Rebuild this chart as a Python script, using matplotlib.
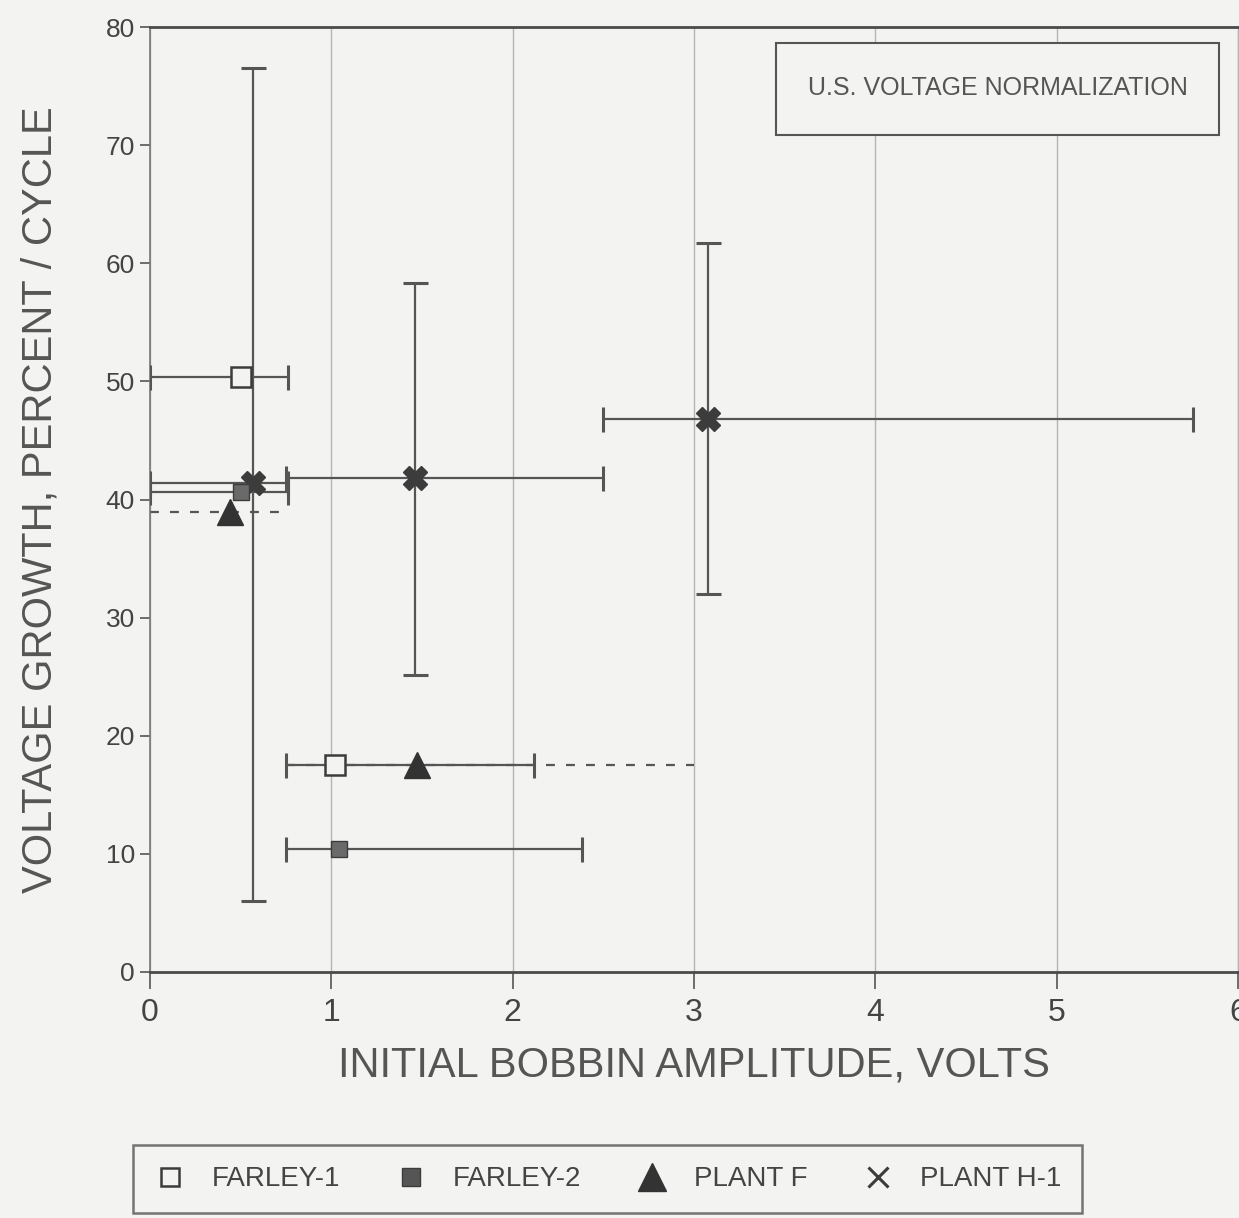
import matplotlib
matplotlib.use("Agg")
import matplotlib.pyplot as plt
from matplotlib.patches import Rectangle
from matplotlib.lines import Line2D

plt.rcParams['font.family'] = ['Liberation Sans', 'DejaVu Sans']

# ---- data ----
farley1_x = [0.50, 1.02]
farley1_y = [50.4, 17.5]
farley1_xlo = [0.0, 0.75]
farley1_xhi = [0.76, 2.12]

farley2_x = [0.50, 1.04]
farley2_y = [40.6, 10.4]
farley2_xlo = [0.0, 0.75]
farley2_xhi = [0.76, 2.38]

plantf_x = [0.44, 1.47]
plantf_y = [38.9, 17.5]
plantf_xlo = [0.0, 0.75]
plantf_xhi = [0.76, 3.00]

planth1_x = [0.57, 1.46, 3.08]
planth1_y = [41.4, 41.8, 46.8]
planth1_xlo = [0.0, 0.75, 2.50]
planth1_xhi = [0.76, 2.50, 5.75]
planth1_ylo = [6.0, 25.1, 32.0]
planth1_yhi = [76.5, 58.3, 61.7]

x_ticks = [0, 1, 2, 3, 4, 5, 6]
y_ticks = [0, 10, 20, 30, 40, 50, 60, 70, 80]

xlabel = "INITIAL BOBBIN AMPLITUDE, VOLTS"
ylabel = "VOLTAGE GROWTH, PERCENT / CYCLE"
note = "U.S. VOLTAGE NORMALIZATION"

BG = '#f3f3f1'
LINE = '#555555'
MARK = '#3c3c3c'

fig = plt.figure(figsize=(12.39, 12.18), dpi=100, facecolor=BG)
ax = fig.add_axes([0.1211, 0.2020, 0.878, 0.7758], facecolor=BG)


def xerr_of(x, lo, hi):
    return [[xi - l for xi, l in zip(x, lo)], [h - xi for xi, h in zip(x, hi)]]


def yerr_of(y, lo, hi):
    return [[yi - l for yi, l in zip(y, lo)], [h - yi for yi, h in zip(y, hi)]]


# Plant H-1
ax.errorbar(planth1_x, planth1_y,
            xerr=xerr_of(planth1_x, planth1_xlo, planth1_xhi),
            yerr=yerr_of(planth1_y, planth1_ylo, planth1_yhi),
            fmt='none', ecolor=LINE, elinewidth=1.6, capsize=9, capthick=2.2, zorder=3)
ax.plot(planth1_x, planth1_y, linestyle='none', marker='X', markersize=17,
        color=MARK, markeredgecolor=MARK, zorder=5)

# Farley-2
ax.errorbar(farley2_x, farley2_y,
            xerr=xerr_of(farley2_x, farley2_xlo, farley2_xhi),
            fmt='none', ecolor=LINE, elinewidth=1.6, capsize=9, capthick=2.2, zorder=3)
ax.plot(farley2_x, farley2_y, linestyle='none', marker='s', markersize=11,
        markerfacecolor='#6a6a6a', markeredgecolor=MARK, zorder=5)

# Farley-1
ax.errorbar(farley1_x, farley1_y,
            xerr=xerr_of(farley1_x, farley1_xlo, farley1_xhi),
            fmt='none', ecolor=LINE, elinewidth=1.6, capsize=9, capthick=2.2, zorder=3)
ax.plot(farley1_x, farley1_y, linestyle='none', marker='s', markersize=15,
        markerfacecolor=BG, markeredgecolor=MARK, markeredgewidth=1.8, zorder=6)

# Plant F (dashed)
eb = ax.errorbar(plantf_x, plantf_y,
                 xerr=xerr_of(plantf_x, plantf_xlo, plantf_xhi),
                 fmt='none', ecolor=LINE, elinewidth=1.6, capsize=0, zorder=2)
for lc in eb[2]:
    lc.set_linestyle((0, (4, 5)))
ax.plot(plantf_x, plantf_y, linestyle='none', marker='^', markersize=19,
        color='#333333', zorder=6)

# axes styling
ax.set_xlim(0, 6)
ax.set_ylim(0, 80)
ax.set_xticks(x_ticks)
ax.set_yticks(y_ticks)
ax.set_xticklabels([str(t) for t in x_ticks], fontsize=23, color='#444444')
ax.set_yticklabels([str(t) for t in y_ticks], fontsize=19, color='#444444')
ax.tick_params(axis='x', direction='out', length=12, width=1.2, color='#555555', pad=7)
ax.tick_params(axis='y', direction='out', length=7, width=1.2, color='#555555', pad=4)
ax.xaxis.grid(True, color='#b5b5b5', linewidth=1.0)
ax.yaxis.grid(False)
ax.set_axisbelow(True)
for side in ['top', 'bottom']:
    ax.spines[side].set_color('#4a4a4a')
    ax.spines[side].set_linewidth(2.0)
ax.spines['left'].set_color('#777777')
ax.spines['left'].set_linewidth(1.2)
ax.spines['right'].set_color('#b5b5b5')
ax.spines['right'].set_linewidth(1.0)

ax.set_xlabel(xlabel, fontsize=30, color='#555555', labelpad=12)
ax.set_ylabel(ylabel, fontsize=30, color='#555555', labelpad=32)

# note box
ax.add_patch(Rectangle((0.575, 0.886), 0.408, 0.097, transform=ax.transAxes,
                       facecolor=BG, edgecolor='#555555', linewidth=1.5, zorder=7))
ax.text(0.779, 0.935, note, transform=ax.transAxes, fontsize=18, color='#555555',
        ha='center', va='center', zorder=8)

# legend
handles = [
    Line2D([], [], linestyle='none', marker='s', markersize=13,
           markerfacecolor=BG, markeredgecolor=MARK, markeredgewidth=1.8),
    Line2D([], [], linestyle='none', marker='s', markersize=13,
           markerfacecolor='#555555', markeredgecolor=MARK),
    Line2D([], [], linestyle='none', marker='^', markersize=20, color='#333333'),
    Line2D([], [], linestyle='none', marker='x', markersize=15, color=MARK,
           markeredgewidth=2.2),
]
labels = ["FARLEY-1", "FARLEY-2", "PLANT F", "PLANT H-1"]
leg = fig.legend(handles, labels, loc='lower left', ncol=4,
                 bbox_to_anchor=(0.1073, 0.004, 0.766, 0.052), mode='expand',
                 borderaxespad=0.0,
                 fontsize=20, frameon=True, fancybox=False, borderpad=0.75,
                 handlelength=1.2, handletextpad=0.9, columnspacing=1.5,
                 labelcolor='#444444')
leg.get_frame().set_edgecolor('#555555')
leg.get_frame().set_linewidth(1.8)
leg.get_frame().set_facecolor(BG)

fig.savefig('out.png', dpi=100, facecolor=BG)
